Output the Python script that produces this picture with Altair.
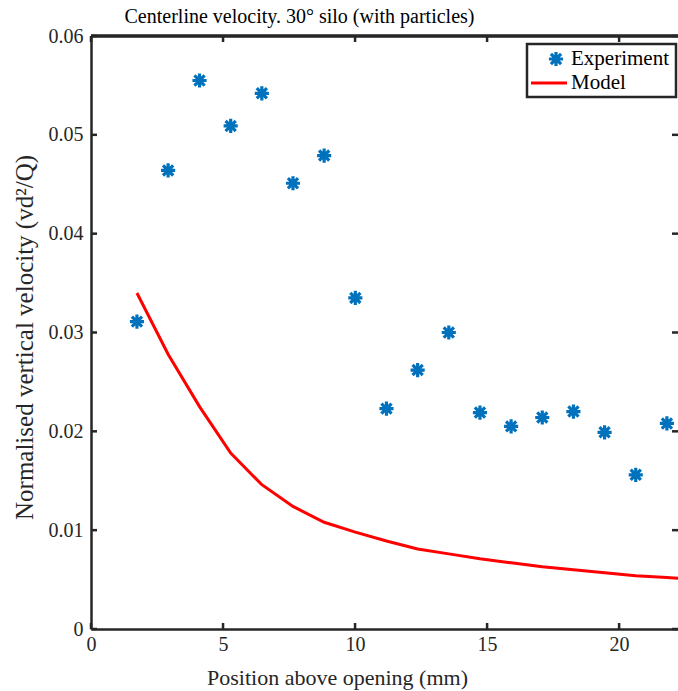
import altair as alt
import pandas as pd

# Experiment (asterisks)
exp_x = [1.74, 2.92, 4.11, 5.29, 6.47, 7.65, 8.83, 10.01, 11.19, 12.37,
         13.55, 14.73, 15.91, 17.09, 18.27, 19.45, 20.63, 21.81]
exp_y = [0.0311, 0.0464, 0.0555, 0.0509, 0.0542, 0.0451, 0.0479, 0.0335, 0.0223, 0.0262,
         0.0300, 0.0219, 0.0205, 0.0214, 0.0220, 0.0199, 0.0156, 0.0208]

# Model (red line)
mod_x = [1.74, 2.92, 4.11, 5.29, 6.47, 7.65, 8.83, 10.01, 11.19, 12.37,
         13.55, 14.73, 15.91, 17.09, 18.27, 19.45, 20.63, 21.81, 22.99]
mod_y = [0.0340, 0.0278, 0.0225, 0.0178, 0.0146, 0.0124, 0.0108, 0.0098, 0.0089, 0.0081,
         0.0076, 0.0071, 0.0067, 0.0063, 0.0060, 0.0057, 0.0054, 0.0052, 0.0050]

x_ticks = [0, 5, 10, 15, 20]
y_ticks = [0, 0.01, 0.02, 0.03, 0.04, 0.05, 0.06]

W, H = 587, 593
FONT = "Liberation Serif"
DARK = "#262626"
BLUE = "#0072BD"
ASTERISK = "M-1,0L1,0M0,-1L0,1M-0.72,-0.72L0.72,0.72M-0.72,0.72L0.72,-0.72"

exp_df = pd.DataFrame({"x": exp_x, "y": exp_y})
mod_df = pd.DataFrame({"x": mod_x, "y": mod_y})
xt_df = pd.DataFrame({"x": x_ticks})
yt_df = pd.DataFrame({"y": y_ticks})

xs = alt.Scale(domain=[0, 22.23], nice=False, zero=False)
ys = alt.Scale(domain=[0, 0.06], nice=False, zero=False)

x_axis = alt.Axis(
    values=x_ticks, format="d", title="Position above opening (mm)",
    labelFont=FONT, labelFontSize=20, labelColor=DARK, labelPadding=5,
    titleFont=FONT, titleFontSize=22, titleFontWeight="normal", titleColor=DARK,
    titleX=246, titleY=55, titleAlign="center", titleBaseline="alphabetic",
    ticks=False, grid=False, domain=True, domainColor=DARK, domainWidth=2.5,
    labelFlush=False,
)
y_axis = alt.Axis(
    values=y_ticks, title="Normalised vertical velocity (vd²/Q)",
    labelExpr="datum.value == 0 ? '0' : format(datum.value, '.2f')",
    labelFont=FONT, labelFontSize=20, labelColor=DARK, labelPadding=8,
    titleFont=FONT, titleFontSize=25, titleFontWeight="normal", titleColor=DARK,
    titleX=-59, titleY=301, titleAlign="center", titleBaseline="alphabetic", titleAngle=-90,
    ticks=False, grid=False, domain=True, domainColor=DARK, domainWidth=2.5,
    labelFlush=False,
)

model = alt.Chart(mod_df).mark_line(color="#FF0000", strokeWidth=3, clip=True).encode(
    x=alt.X("x:Q", scale=xs, axis=x_axis),
    y=alt.Y("y:Q", scale=ys, axis=y_axis),
)
exp = alt.Chart(exp_df).mark_point(
    shape=ASTERISK, size=200, filled=False, stroke=BLUE, strokeWidth=3.2, opacity=1, clip=True
).encode(x=alt.X("x:Q", scale=xs), y=alt.Y("y:Q", scale=ys))

top_line = alt.Chart(xt_df).mark_rule(color=DARK, strokeWidth=2.5).encode(
    x=alt.value(0), x2=alt.value(W), y=alt.value(0)
)
bottom_ticks = alt.Chart(xt_df).mark_rule(color=DARK, strokeWidth=2.5).encode(
    x=alt.X("x:Q", scale=xs), y=alt.value(H), y2=alt.value(H - 6)
)
top_ticks = alt.Chart(xt_df).mark_rule(color=DARK, strokeWidth=2.5).encode(
    x=alt.X("x:Q", scale=xs), y=alt.value(0), y2=alt.value(6)
)
left_ticks = alt.Chart(yt_df).mark_rule(color=DARK, strokeWidth=2.5).encode(
    y=alt.Y("y:Q", scale=ys), x=alt.value(0), x2=alt.value(6)
)
right_ticks = alt.Chart(yt_df).mark_rule(color=DARK, strokeWidth=2.5).encode(
    y=alt.Y("y:Q", scale=ys), x=alt.value(W - 6), x2=alt.value(W)
)

# Legend (manual box)
leg_df = pd.DataFrame({"k": [0]})
leg_box = alt.Chart(leg_df).mark_rect(fill="white", stroke=DARK, strokeWidth=2.5).encode(
    x=alt.value(436), x2=alt.value(585), y=alt.value(8), y2=alt.value(61)
)
leg_sym = alt.Chart(leg_df).mark_point(
    shape=ASTERISK, size=200, filled=False, stroke=BLUE, strokeWidth=3.2, opacity=1
).encode(x=alt.value(465), y=alt.value(23))
leg_line = alt.Chart(leg_df).mark_rule(color="#FF0000", strokeWidth=3).encode(
    x=alt.value(440), x2=alt.value(476), y=alt.value(47)
)
leg_t1 = alt.Chart(leg_df).mark_text(
    text="Experiment", font=FONT, fontSize=21, color="black", align="left", baseline="middle"
).encode(x=alt.value(480), y=alt.value(23))
leg_t2 = alt.Chart(leg_df).mark_text(
    text="Model", font=FONT, fontSize=21, color="black", align="left", baseline="middle"
).encode(x=alt.value(480), y=alt.value(47))

chart = alt.layer(
    model, exp, top_line, bottom_ticks, top_ticks, left_ticks, right_ticks,
    leg_box, leg_sym, leg_line, leg_t1, leg_t2,
).properties(
    width=W, height=H,
    title=alt.TitleParams(
        "Centerline velocity. 30° silo (with particles)",
        font=FONT, fontSize=20, fontWeight="normal", color="black",
        anchor="middle", dx=-85, dy=4, offset=3,
    ),
    autosize=alt.AutoSizeParams(type="none"),
    padding={"left": 91, "top": 36, "right": 0, "bottom": 62},
).configure_view(stroke=None).configure(background="white")

chart.save("out.html", embed_options={"renderer": "svg", "actions": False})
